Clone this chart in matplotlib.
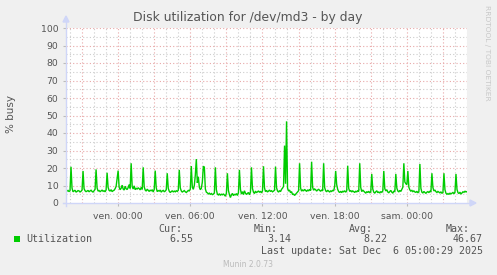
import matplotlib
matplotlib.use("Agg")
import matplotlib.pyplot as plt
from matplotlib.patches import Rectangle, Polygon
from matplotlib.lines import Line2D
import numpy as np

# ---- data (5-minute samples, % busy) ----
start_hour = -4.25          # hours relative to "ven. 00:00"
step_hours = 5.0 / 60.0
utilization = [
    6.8, 7.2, 6.5, 7.0, 20.7, 8.5, 6.4, 6.9, 7.3, 6.2, 6.6, 7.1,
    6.9, 6.3, 6.7, 7.4, 18.3, 8.2, 7.0, 6.5, 6.8, 7.2, 6.4, 6.9,
    7.3, 6.6, 6.2, 7.0, 7.8, 19.2, 8.6, 6.8, 7.1, 6.5, 6.9, 7.4,
    6.7, 7.0, 6.4, 7.5, 17.3, 8.9, 7.2, 6.8, 7.6, 6.5, 7.0, 7.3,
    8.2, 9.5, 14.0, 18.5, 9.0, 7.6, 8.4, 10.2, 8.0, 7.4, 9.6, 8.1,
    7.7, 8.8, 10.5, 8.3, 22.7, 9.4, 8.0, 9.8, 7.6, 8.5, 7.9, 8.7,
    8.2, 7.5, 8.9, 7.8, 20.4, 9.2, 7.4, 6.8, 7.9, 7.2, 6.6, 7.4,
    6.9, 7.6, 6.3, 7.8, 18.5, 8.7, 6.5, 7.1, 6.8, 7.4, 6.2, 6.9,
    7.2, 6.5, 6.8, 7.6, 17.0, 8.4, 6.7, 6.0, 6.5, 7.0, 6.3, 6.8,
    6.4, 7.0, 6.6, 7.3, 18.9, 8.6, 6.9, 6.2, 6.7, 7.1, 6.4, 6.0,
    6.6, 7.2, 6.8, 8.0, 21.1, 9.0, 7.8, 10.0, 16.0, 25.1, 11.5, 15.0,
    9.0, 7.6, 8.4, 12.0, 21.0, 20.5, 8.0, 6.2, 5.8, 5.2, 5.6, 4.9,
    5.4, 4.8, 5.1, 5.7, 20.4, 7.5, 5.0, 4.6, 5.3, 4.4, 5.0, 4.7,
    5.2, 4.5, 3.9, 5.6, 17.0, 7.2, 4.8, 3.14, 4.6, 5.5, 4.2, 5.0,
    4.6, 5.4, 4.3, 5.8, 18.9, 7.8, 5.1, 6.5, 4.8, 7.0, 5.6, 4.9,
    5.5, 6.0, 4.7, 6.3, 20.4, 8.3, 6.2, 5.4, 6.8, 5.9, 6.4, 6.9,
    6.1, 6.7, 5.8, 6.9, 21.0, 8.6, 6.5, 7.2, 6.3, 6.8, 7.4, 6.6,
    7.0, 6.4, 6.8, 7.3, 20.8, 8.7, 6.9, 6.2, 7.1, 6.5, 7.8, 8.5,
    9.5, 32.8, 11.0, 46.67, 8.5, 6.8, 7.4, 5.9, 6.5, 4.8, 5.2, 4.3,
    5.0, 5.8, 6.4, 7.0, 22.7, 8.5, 6.8, 7.4, 6.9, 7.8, 7.2, 6.6,
    7.5, 6.9, 7.8, 7.1, 23.6, 9.0, 7.3, 8.0, 7.6, 6.8, 7.4, 7.9,
    7.2, 6.7, 7.5, 6.9, 22.7, 8.8, 7.0, 6.4, 7.3, 6.8, 6.2, 7.0,
    6.6, 7.2, 6.9, 9.5, 18.3, 10.5, 7.8, 6.5, 6.0, 6.7, 5.9, 6.8,
    6.4, 7.0, 6.2, 6.9, 21.3, 8.4, 6.6, 7.2, 6.3, 6.9, 6.5, 6.0,
    6.8, 6.3, 7.0, 6.6, 22.7, 8.9, 6.5, 7.4, 6.8, 6.2, 5.6, 6.5,
    6.0, 6.7, 5.8, 6.4, 16.6, 8.0, 6.2, 5.6, 6.4, 7.0, 5.9, 6.3,
    5.7, 6.5, 6.1, 6.8, 18.3, 8.2, 6.9, 7.6, 6.3, 5.9, 6.6, 7.2,
    6.2, 5.6, 6.8, 6.4, 16.6, 8.5, 6.9, 6.3, 7.2, 6.6, 7.8, 9.0,
    22.7, 12.0, 11.0, 10.5, 18.3, 9.0, 7.5, 6.8, 7.2, 6.5, 6.9, 6.3,
    6.1, 6.7, 5.8, 6.5, 22.3, 8.4, 6.2, 5.7, 6.6, 6.0, 5.5, 6.2,
    6.5, 5.9, 6.8, 6.3, 17.0, 8.8, 6.9, 7.4, 6.5, 6.0, 6.6, 6.2,
    5.8, 6.4, 5.5, 6.1, 17.0, 7.6, 5.6, 5.0, 5.4, 4.9, 5.7, 5.2,
    5.6, 6.0, 5.3, 6.2, 16.6, 7.8, 5.9, 5.4, 6.2, 5.1, 5.8, 6.4,
    6.1, 6.8, 6.3, 6.55,
]
x_tick_hours = [0, 6, 12, 18, 24]
x_tick_labels = ["ven. 00:00", "ven. 06:00", "ven. 12:00", "ven. 18:00", "sam. 00:00"]
y_ticks = [0, 10, 20, 30, 40, 50, 60, 70, 80, 90, 100]
legend_name = "Utilization"
stat_labels = ["Cur:", "Min:", "Avg:", "Max:"]
stat_values = ["6.55", "3.14", "8.22", "46.67"]
title = "Disk utilization for /dev/md3 - by day"
last_update = "Last update: Sat Dec  6 05:00:29 2025"

# ---- figure ----
W, H = 497, 275
BG = "#F0F0F0"
FONT = "#555555"
GREEN = "#00CC00"
AXIS = "#CFD6F8"
MINOR = "#CCCCCC"
MAJOR = "#E8A8A8"

fig = plt.figure(figsize=(W / 100, H / 100), dpi=100, facecolor=BG)

def fx(px):
    return px / W

def fy(py):
    return 1 - py / H

L, R, T, B = 66, 467, 28, 203
ax = fig.add_axes([fx(L), fy(B), fx(R) - fx(L), fy(T) - fy(B)])
ax.set_facecolor("white")
for s in ax.spines.values():
    s.set_visible(False)

x = start_hour + np.arange(len(utilization)) * step_hours
xmin = start_hour - 1.0 / 12
xmax = start_hour + 400 / 12 - 1.0 / 12
ax.set_xlim(xmin, xmax)
ax.set_ylim(0, 100)

dash = (0, (1, 2))
# minor grid
for h in np.arange(-4, 30, 1):
    if h % 3 != 0:
        ax.axvline(h, color=MINOR, lw=0.8, ls=dash, zorder=1)
for v in range(5, 100, 10):
    ax.axhline(v, color=MINOR, lw=0.8, ls=dash, zorder=1)
# major grid
for h in np.arange(-3, 30, 3):
    ax.axvline(h, color=MAJOR, lw=0.8, ls=dash, zorder=1.5)
for v in range(10, 101, 10):
    ax.axhline(v, color=MAJOR, lw=0.8, ls=dash, zorder=1.5)

ax.plot(x, utilization, color=GREEN, lw=1.0, zorder=3, solid_joinstyle="miter")

ax.set_xticks(x_tick_hours)
ax.set_xticklabels(x_tick_labels)
ax.set_yticks(y_ticks)
ax.set_yticklabels([str(v) for v in y_ticks])
ax.tick_params(axis="both", colors=FONT, labelsize=6.7, length=2.5, width=0.8, pad=3)
ax.tick_params(axis="y", color="#BBBBBB")
ax.tick_params(axis="x", color="#BBBBBB", pad=4)

# axes lines with arrows
fig.add_artist(Line2D([fx(L), fx(L)], [fy(B + 3), fy(22)], color=AXIS, lw=1.0))
fig.add_artist(Line2D([fx(L - 3), fx(470)], [fy(B), fy(B)], color=AXIS, lw=1.0))
fig.add_artist(Polygon([[fx(L - 3), fy(22)], [fx(L + 3), fy(22)], [fx(L), fy(16)]],
                       closed=True, color=AXIS, transform=fig.transFigure))
fig.add_artist(Polygon([[fx(470), fy(B - 3)], [fx(470), fy(B + 3)], [fx(476), fy(B)]],
                       closed=True, color=AXIS, transform=fig.transFigure))

# texts
fig.text(fx(248), fy(18), title, ha="center", va="center", fontsize=8.9, color=FONT,
         family="DejaVu Sans")
fig.text(fx(11), fy(114), "% busy", ha="center", va="center", rotation=90,
         fontsize=7.5, color=FONT, family="DejaVu Sans")
fig.text(fx(487), fy(5), "RRDTOOL / TOBI OETIKER", ha="center", va="top", rotation=-90,
         fontsize=5.4, color="#C8C8C8", family="DejaVu Sans")

mono = "DejaVu Sans Mono"
fs = 7.2
fig.add_artist(Rectangle((fx(14), fy(242)), fx(6), 6 / H, transform=fig.transFigure,
                         facecolor=GREEN, edgecolor=GREEN, lw=0))
fig.text(fx(26), fy(239.5), legend_name, ha="left", va="center", fontsize=fs,
         color=FONT, family=mono)
label_right = [182, 278, 373, 470]
value_right = [193, 291, 387, 483]
for lab, val, lr, vr in zip(stat_labels, stat_values, label_right, value_right):
    fig.text(fx(lr), fy(228.5), lab, ha="right", va="center", fontsize=fs, color=FONT, family=mono)
    fig.text(fx(vr), fy(239.5), val, ha="right", va="center", fontsize=fs, color=FONT, family=mono)
fig.text(fx(483), fy(251), last_update, ha="right", va="center", fontsize=fs,
         color=FONT, family=mono)
fig.text(fx(248), fy(264.5), "Munin 2.0.73", ha="center", va="center", fontsize=5.5,
         color="#BBBBBB", family="DejaVu Sans")

fig.savefig("out.png", dpi=100, facecolor=BG)
